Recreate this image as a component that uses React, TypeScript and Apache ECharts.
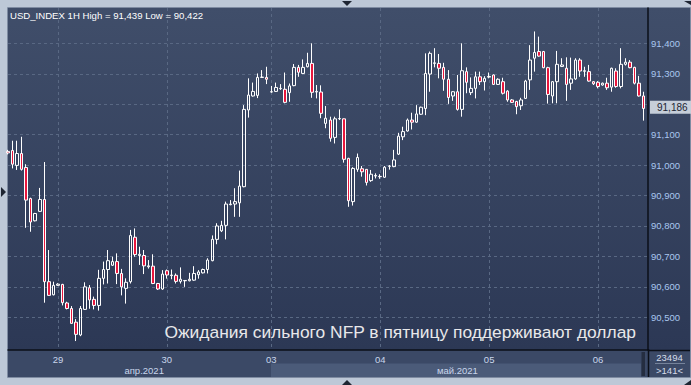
import React, { useEffect, useRef } from 'react';
import * as echarts from 'echarts';

// Trading sessions (hourly bars) shown on the chart
const sessions = [
  { day: '28', month: '04', first: 13, last: 23 },
  { day: '29', month: '04', first: 0, last: 23 },
  { day: '30', month: '04', first: 0, last: 22 },
  { day: '03', month: '05', first: 0, last: 23 },
  { day: '04', month: '05', first: 0, last: 23 },
  { day: '05', month: '05', first: 0, last: 23 },
  { day: '06', month: '05', first: 0, last: 10 },
];

const monthTicks = [
  { category: '29.04 19:00', label: 'апр.2021' },
  { category: '04.05 17:00', label: 'май.2021' },
];

const priceTicks = [90.5, 90.6, 90.7, 90.8, 90.9, 91.0, 91.1, 91.2, 91.3, 91.4];

const opens = [
  91.045, 91.048, 90.999, 91.038, 90.992, 90.890, 90.817, 90.848, 90.887, 90.617,
  90.574, 90.605, 90.608, 90.547, 90.529, 90.484, 90.442, 90.526, 90.597, 90.559,
  90.539, 90.628, 90.657, 90.671, 90.683, 90.644, 90.595, 90.617, 90.763, 90.703,
  90.703, 90.666, 90.668, 90.611, 90.593, 90.653, 90.637, 90.638, 90.618, 90.620,
  90.620, 90.622, 90.640, 90.646, 90.657, 90.686, 90.756, 90.784, 90.802, 90.870,
  90.872, 90.876, 90.929, 91.181, 91.227, 91.229, 91.288, 91.288, 91.240, 91.242,
  91.251, 91.249, 91.238, 91.261, 91.321, 91.301, 91.323, 91.334, 91.240, 91.240,
  91.137, 91.148, 91.091, 91.152, 91.152, 91.022, 90.880, 90.986, 90.988, 90.986,
  90.949, 90.964, 90.963, 90.960, 90.996, 90.995, 91.036, 91.093, 91.112, 91.148,
  91.141, 91.167, 91.186, 91.299, 91.334, 91.334, 91.321, 91.282, 91.227, 91.241,
  91.183, 91.307, 91.238, 91.252, 91.290, 91.274, 91.289, 91.296, 91.265, 91.274,
  91.243, 91.214, 91.209, 91.195, 91.219, 91.280, 91.351, 91.373, 91.373, 91.320,
  91.227, 91.274, 91.324, 91.318, 91.269, 91.283, 91.345, 91.308, 91.307, 91.274,
  91.272, 91.263, 91.269, 91.256, 91.309, 91.258, 91.331, 91.338, 91.321, 91.269,
  91.227,
];

const highs = [
  91.050, 91.080, 91.080, 91.093, 91.003, 90.893, 90.843, 90.925, 91.010, 90.721,
  90.617, 90.612, 90.610, 90.551, 90.537, 90.494, 90.537, 90.615, 90.606, 90.568,
  90.656, 90.683, 90.721, 90.699, 90.710, 90.659, 90.628, 90.787, 90.792, 90.732,
  90.721, 90.688, 90.707, 90.613, 90.655, 90.657, 90.657, 90.644, 90.664, 90.622,
  90.646, 90.668, 90.655, 90.660, 90.694, 90.769, 90.809, 90.817, 90.880, 90.885,
  90.924, 90.982, 91.197, 91.285, 91.271, 91.301, 91.312, 91.323, 91.260, 91.271,
  91.266, 91.304, 91.268, 91.332, 91.329, 91.347, 91.369, 91.400, 91.263, 91.262,
  91.194, 91.159, 91.159, 91.183, 91.153, 91.024, 90.993, 91.038, 90.997, 90.987,
  90.984, 90.973, 90.970, 90.997, 91.000, 91.050, 91.106, 91.126, 91.153, 91.172,
  91.197, 91.192, 91.367, 91.373, 91.384, 91.365, 91.336, 91.312, 91.243, 91.296,
  91.400, 91.321, 91.288, 91.307, 91.307, 91.292, 91.304, 91.298, 91.285, 91.287,
  91.246, 91.217, 91.211, 91.221, 91.280, 91.394, 91.439, 91.422, 91.375, 91.323,
  91.276, 91.375, 91.351, 91.354, 91.353, 91.351, 91.351, 91.323, 91.329, 91.276,
  91.276, 91.271, 91.287, 91.320, 91.318, 91.384, 91.351, 91.345, 91.323, 91.293,
  91.241,
];

const lows = [
  91.035, 90.989, 90.984, 90.982, 90.794, 90.781, 90.815, 90.846, 90.548, 90.570,
  90.572, 90.603, 90.539, 90.526, 90.480, 90.422, 90.438, 90.524, 90.528, 90.526,
  90.522, 90.608, 90.611, 90.669, 90.609, 90.572, 90.545, 90.611, 90.699, 90.672,
  90.642, 90.660, 90.609, 90.590, 90.590, 90.627, 90.625, 90.611, 90.611, 90.600,
  90.618, 90.620, 90.627, 90.644, 90.644, 90.684, 90.740, 90.780, 90.756, 90.868,
  90.830, 90.830, 90.927, 91.156, 91.225, 91.220, 91.286, 91.266, 91.238, 91.240,
  91.247, 91.203, 91.208, 91.259, 91.290, 91.299, 91.321, 91.221, 91.219, 91.154,
  91.121, 91.077, 91.071, 91.148, 91.008, 90.863, 90.867, 90.978, 90.962, 90.933,
  90.945, 90.956, 90.955, 90.958, 90.985, 90.993, 91.033, 91.082, 91.110, 91.117,
  91.139, 91.165, 91.164, 91.241, 91.321, 91.285, 91.244, 91.201, 91.211, 91.179,
  91.159, 91.236, 91.230, 91.219, 91.263, 91.245, 91.285, 91.263, 91.263, 91.232,
  91.208, 91.204, 91.167, 91.181, 91.217, 91.247, 91.307, 91.356, 91.318, 91.202,
  91.203, 91.203, 91.322, 91.211, 91.247, 91.280, 91.290, 91.290, 91.274, 91.263,
  91.252, 91.261, 91.247, 91.241, 91.254, 91.252, 91.327, 91.318, 91.265, 91.225,
  91.146,
];

const closes = [
  91.040, 91.003, 91.038, 90.986, 90.885, 90.813, 90.841, 90.887, 90.617, 90.572,
  90.605, 90.609, 90.548, 90.529, 90.480, 90.444, 90.529, 90.600, 90.557, 90.539,
  90.628, 90.657, 90.686, 90.683, 90.644, 90.600, 90.615, 90.769, 90.706, 90.707,
  90.669, 90.669, 90.611, 90.593, 90.642, 90.639, 90.639, 90.618, 90.625, 90.621,
  90.625, 90.644, 90.649, 90.657, 90.688, 90.756, 90.800, 90.802, 90.872, 90.872,
  90.880, 90.931, 91.183, 91.230, 91.242, 91.288, 91.289, 91.282, 91.241, 91.255,
  91.252, 91.206, 91.260, 91.321, 91.305, 91.321, 91.334, 91.239, 91.242, 91.170,
  91.154, 91.088, 91.152, 91.153, 91.019, 90.883, 90.989, 91.025, 90.978, 90.943,
  90.970, 90.966, 90.962, 90.993, 90.997, 91.017, 91.095, 91.110, 91.148, 91.141,
  91.168, 91.190, 91.301, 91.367, 91.336, 91.318, 91.282, 91.222, 91.241, 91.183,
  91.310, 91.272, 91.252, 91.290, 91.274, 91.285, 91.291, 91.265, 91.282, 91.236,
  91.214, 91.206, 91.192, 91.214, 91.276, 91.345, 91.370, 91.358, 91.320, 91.232,
  91.274, 91.331, 91.329, 91.265, 91.283, 91.345, 91.309, 91.310, 91.276, 91.267,
  91.258, 91.269, 91.254, 91.318, 91.258, 91.331, 91.338, 91.320, 91.269, 91.227,
  91.186,
];

const titleText = 'USD_INDEX 1H High = 91,439 Low = 90,422';
const captionText = 'Ожидания сильного NFP в пятницу поддерживают доллар';
const barCountText = '23494';
const visibleCountText = '>141<';

const FONT = '"Liberation Sans", Arial, sans-serif';

function buildCategories(): string[] {
  const out: string[] = [];
  sessions.forEach((s) => {
    for (let h = s.first; h <= s.last; h++) {
      out.push(`${s.day}.${s.month} ${String(h).padStart(2, '0')}:00`);
    }
  });
  out.push(' '); // empty slot after the last bar
  return out;
}

const fmtPrice = (v: number) => v.toFixed(3).replace('.', ',');

export default function App() {
  const ref = useRef<HTMLDivElement>(null);

  useEffect(() => {
    if (!ref.current) return;
    const chart = echarts.init(ref.current, undefined, { renderer: 'svg' });
    const categories = buildCategories();
    const isDayStart = (val: string) => /00:00$/.test(val);
    const candleData = opens.map((o, i) => [o, closes[i], lows[i], highs[i]]);
    const lastClose = closes[closes.length - 1];

    const option: any = {
      animation: false,
      backgroundColor: '#bdc8d7',
      textStyle: { fontFamily: FONT },
      grid: { left: 8, top: 8, width: 640, height: 342, containLabel: false },
      xAxis: [
        {
          type: 'category',
          data: categories,
          boundaryGap: false,
          axisLine: { show: true, lineStyle: { color: '#0b0f18', width: 1.5 } },
          axisTick: { show: false },
          axisLabel: {
            interval: (_i: number, val: string) => isDayStart(val),
            formatter: (val: string) => val.slice(0, 2),
            color: '#c9d6ec',
            fontSize: 9.5,
            margin: 4,
          },
          splitLine: {
            show: true,
            interval: (_i: number, val: string) => isDayStart(val),
            lineStyle: { color: '#596883', type: [3, 3], width: 1 },
          },
        },
        {
          type: 'category',
          data: categories,
          boundaryGap: false,
          position: 'bottom',
          offset: 11,
          axisLine: { show: false },
          axisTick: { show: false },
          splitLine: { show: false },
          axisLabel: {
            interval: (_i: number, val: string) => monthTicks.some((m) => m.category === val),
            formatter: (val: string) => {
              const m = monthTicks.find((t) => t.category === val);
              return m ? m.label : '';
            },
            color: '#c9d6ec',
            fontSize: 9.5,
            margin: 4,
          },
        },
      ],
      yAxis: {
        type: 'value',
        position: 'right',
        min: 90.3926,
        max: 91.516,
        splitNumber: 11,
        axisLine: { show: true, lineStyle: { color: '#0b0f18', width: 1.5 } },
        axisTick: { show: false },
        splitLine: { show: false },
        axisLabel: {
          color: '#a9c7ef',
          fontSize: 9.5,
          margin: 3,
          formatter: (v: number) =>
            priceTicks.some((t) => Math.abs(t - v) < 1e-6) ? fmtPrice(v) : '',
        },
      },
      series: [
        {
          type: 'line',
          data: [],
          silent: true,
          markLine: {
            silent: true,
            z: 1,
            symbol: ['none', 'none'],
            label: { show: false },
            lineStyle: { color: '#596883', type: [3, 3], width: 1 },
            data: priceTicks.map((v) => ({ yAxis: v })),
          },
        },
        {
          type: 'candlestick',
          data: candleData,
          barWidth: 3,
          z: 3,
          itemStyle: {
            color: 'rgba(0,0,0,0)',
            color0: '#e8173d',
            borderColor: '#ffffff',
            borderColor0: '#ffffff',
            borderWidth: 1,
          },
          markLine: {
            silent: true,
            z: 20,
            symbol: ['none', 'none'],
            lineStyle: { color: 'rgba(0,0,0,0)', width: 0 },
            label: {
              show: true,
              position: 'end',
              distance: 2,
              formatter: () => fmtPrice(lastClose),
              color: '#1c2432',
              backgroundColor: '#c6ced9',
              fontSize: 10,
              fontFamily: FONT,
              padding: [2, 4, 1, 7],
            },
            data: [{ yAxis: lastClose }],
          },
        },
      ],
      graphic: [
        {
          type: 'rect',
          z: -20,
          silent: true,
          shape: { x: 7.5, y: 7.5, width: 683, height: 370 },
          style: { fill: 'none', stroke: '#7f8ca2', lineWidth: 1 },
        },
        {
          type: 'rect',
          z: -10,
          silent: true,
          shape: { x: 8, y: 8, width: 682, height: 342 },
          style: {
            fill: {
              type: 'linear', x: 0, y: 0, x2: 0, y2: 1,
              colorStops: [
                { offset: 0, color: '#404e6a' },
                { offset: 1, color: '#2c3855' },
              ],
            },
          },
        },
        {
          type: 'rect',
          z: -10,
          silent: true,
          shape: { x: 8, y: 350, width: 682, height: 27 },
          style: { fill: '#3b4966' },
        },
        {
          type: 'rect',
          z: -9,
          silent: true,
          shape: { x: 271, y: 363.5, width: 370, height: 13.5 },
          style: { fill: '#4b5b79' },
        },
        {
          type: 'rect',
          z: -8,
          silent: true,
          shape: { x: 641.5, y: 352, width: 3.5, height: 24 },
          style: { fill: '#252e41' },
        },
        {
          type: 'line',
          z: 10,
          silent: true,
          shape: { x1: 648.5, y1: 349, x2: 648.5, y2: 377 },
          style: { stroke: '#0b0f18', lineWidth: 1.5 },
        },
        {
          type: 'line',
          z: 10,
          silent: true,
          shape: { x1: 648, y1: 350.5, x2: 690, y2: 350.5 },
          style: { stroke: '#0b0f18', lineWidth: 1.5 },
        },
        {
          type: 'text',
          z: 20,
          silent: true,
          x: 10,
          y: 15,
          style: {
            text: titleText,
            fill: '#ffffff',
            fontSize: 9.6,
            fontFamily: FONT,
            verticalAlign: 'middle',
          },
        },
        {
          type: 'text',
          z: 20,
          silent: true,
          x: 636,
          y: 331.5,
          style: {
            text: captionText,
            fill: '#e8e8ea',
            fontSize: 17.4,
            fontFamily: FONT,
            align: 'right',
            verticalAlign: 'middle',
          },
        },
        {
          type: 'text',
          z: 20,
          silent: true,
          x: 669.5,
          y: 357,
          style: {
            text: barCountText,
            fill: '#d4dcea',
            fontSize: 9.5,
            fontFamily: FONT,
            align: 'center',
            verticalAlign: 'middle',
          },
        },
        {
          type: 'line',
          z: 20,
          silent: true,
          shape: { x1: 655, y1: 363.5, x2: 685, y2: 363.5 },
          style: { stroke: '#75839b', lineWidth: 1 },
        },
        {
          type: 'text',
          z: 20,
          silent: true,
          x: 669.5,
          y: 370,
          style: {
            text: visibleCountText,
            fill: '#d4dcea',
            fontSize: 9.5,
            fontFamily: FONT,
            align: 'center',
            verticalAlign: 'middle',
          },
        },
        {
          type: 'polygon',
          z: 20,
          silent: true,
          shape: { points: [[342, 1], [352, 1], [347, 6]] },
          style: { fill: '#1e2532' },
        },
        {
          type: 'polygon',
          z: 20,
          silent: true,
          shape: { points: [[342, 385], [352, 385], [347, 380]] },
          style: { fill: '#1e2532' },
        },
        {
          type: 'polygon',
          z: 20,
          silent: true,
          shape: { points: [[1, 187], [1, 197], [6, 192]] },
          style: { fill: '#1e2532' },
        },
        {
          type: 'polygon',
          z: 20,
          silent: true,
          shape: { points: [[684, 1], [691, 1], [691, 5]] },
          style: { fill: '#1e2532' },
        },
        {
          type: 'polygon',
          z: 20,
          silent: true,
          shape: { points: [[684, 385], [691, 385], [691, 380]] },
          style: { fill: '#1e2532' },
        },
      ],
    };

    chart.setOption(option);
    return () => chart.dispose();
  }, []);

  return (
    <div
      ref={ref}
      style={{ position: 'fixed', left: 0, top: 0, width: 691, height: 385 }}
    />
  );
}
